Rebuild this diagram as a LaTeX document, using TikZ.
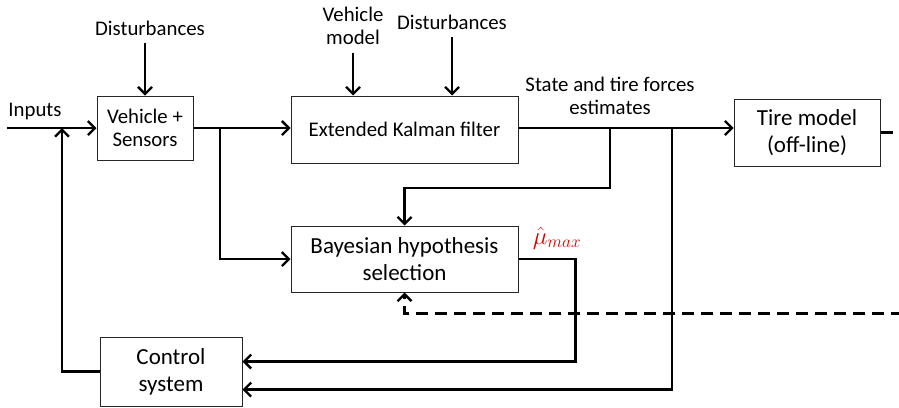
\documentclass[tikz,border=0pt]{standalone}
\usepackage{fontspec}
\setmainfont{Carlito}
\usetikzlibrary{arrows.meta}
\begin{document}
\begin{tikzpicture}[x=1pt, y=-1pt,
  every node/.style={font=\fontsize{20.8}{23.5}\selectfont, align=center},
  block/.style={draw=black!85, line width=1pt, inner sep=0pt},
  bigtext/.style={font=\fontsize{23}{27}\selectfont},
  link/.style={line width=2.3pt, -{Straight Barb[length=7pt, width=14pt, line width=2.3pt]}}]
  \clip (0,0) rectangle (899,407);
  % blocks
  \node[block, minimum width=96, minimum height=64] (veh) at (145,128) {Vehicle +\\Sensors};
  \node[block, minimum width=227, minimum height=67] (ekf) at (404.5,129.5) {Extended Kalman filter};
  \node[block, bigtext, minimum width=227, minimum height=66] (bay) at (404.5,259) {Bayesian hypothesis\\selection};
  \node[block, bigtext, minimum width=146, minimum height=67] (tire) at (807,132.5) {Tire model\\(off-line)};
  \node[block, bigtext, minimum width=142, minimum height=69] (ctrl) at (171,371.5) {Control\\system};
  % labels
  \node (dist1) at (150,28) {Disturbances};
  \node (vmod) at (353,26) {Vehicle\\model};
  \node (dist2) at (452,22) {Disturbances};
  \node (inp) at (35,112) {Inputs};
  \node (est) at (610,96) {State and tire forces\\estimates};
  \node[text=red!85!black, font=\fontsize{24}{28}\selectfont, inner sep=0pt] (mu) at (557,238) {$\hat{\mu}_{max}$};
  % junctions
  \coordinate (in) at (7,128);
  \coordinate (j0) at (62,128);
  \coordinate (j1) at (220,128);
  \coordinate (j2) at (610,128);
  \coordinate (j3) at (672,128);
  % connectors
  \draw[link] (in) -- (veh.west);
  \draw[link] ([yshift=-4pt]dist1.south -| veh.north) -- (veh.north);
  \draw[link] ([yshift=-4pt]vmod.south) -- (vmod.south |- ekf.north);
  \draw[link] ([yshift=-4pt]dist2.south) -- (dist2.south |- ekf.north);
  \draw[link] (veh.east) -- (veh.east -| ekf.west);
  \draw[link] (j1) |- (bay.west);
  \draw[link] (ekf.east |- j2) -- (j2 -| tire.west);
  \draw[link] (j2) -- ++(0,60) -| (bay.north);
  \draw[link] (j3) |- ([yshift=-18pt]ctrl.east);
  \draw[link] (bay.east) -- ++(57,0) |- ([yshift=10pt]ctrl.east);
  \draw[link] (ctrl.west) -| (j0);
  \draw[link, dash pattern=on 12pt off 7pt] (tire.east) -- ++(25,0) |- ([yshift=-21pt]bay.south) -- (bay.south);
\end{tikzpicture}
\end{document}
